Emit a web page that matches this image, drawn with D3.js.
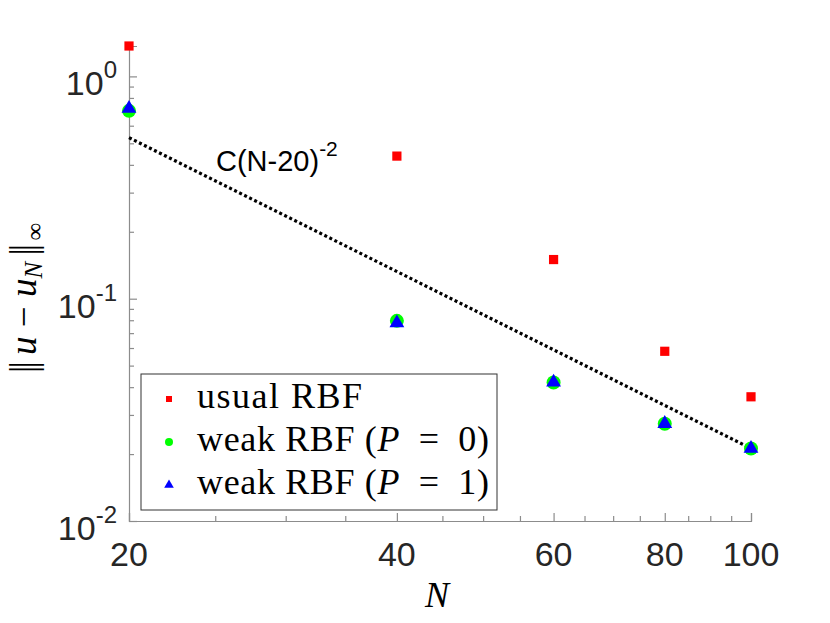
<!DOCTYPE html>
<html>
<head>
<meta charset="utf-8">
<script src="https://cdn.jsdelivr.net/npm/d3@7"></script>
<style>
  body { margin: 0; background: #fff; }
  svg { display: block; }
  .tick-label { font-family: 'Liberation Sans', Arial, sans-serif; fill: #262626; }
  .serif { font-family: 'Liberation Serif', 'Times New Roman', serif; fill: #000; }
</style>
</head>
<body>
<svg class="main" width="830" height="623"></svg>
<script>
'use strict';

// data
var nValues = [20, 40, 60, 80, 100];
var usualRBF = [1.37, 0.438, 0.150, 0.0580, 0.0362];
var weakP0 = [0.700, 0.0795, 0.0420, 0.0274, 0.0212];
var weakP1 = [0.725, 0.0785, 0.0425, 0.0277, 0.0214];
// reference slope line C N^-2 drawn between its two ends
var refN = [20, 100];
var refErr = [0.53, 0.0212];

var xTicks = [20, 40, 60, 80, 100];
var xMinor = [25, 30, 35, 45, 50, 55, 65, 70, 75, 85, 90, 95];
var yTicks = [0.01, 0.1, 1];
var yTickExp = ['-2', '-1', '0'];
var yMinor = [];
[0.01, 0.1].forEach(function (d) {
    for (var k = 2; k <= 9; k++) { yMinor.push(d * k); }
});

var legendLabels = [
    {text: 'usual RBF', math: null, width: 165},
    {text: 'weak RBF (', math: '0', width: 292},
    {text: 'weak RBF (', math: '1', width: 292}
];

var plotLeft = 129, plotRight = 751, plotTop = 46, plotBottom = 521;
var axisColor = '#8c8c8c';

var x = d3.scaleLog().domain([20, 100]).range([plotLeft, plotRight]);
var y = d3.scaleLog().domain([0.01, 1.37]).range([plotBottom, plotTop]);

var svg = d3.select('svg.main');

// axes lines with inward ticks
var gx = svg.append('g').attr('transform', 'translate(0,' + plotBottom + ')');
gx.call(d3.axisBottom(x).tickValues(xTicks).tickSize(-8).tickFormat(''));
gx.append('g').call(d3.axisBottom(x).tickValues(xMinor).tickSize(-5).tickFormat(''))
    .select('.domain').remove();
gx.selectAll('path, line').attr('stroke', axisColor).attr('stroke-width', 1.2);

var gy = svg.append('g').attr('transform', 'translate(' + plotLeft + ',0)');
gy.call(d3.axisLeft(y).tickValues(yTicks).tickSize(-8).tickFormat(''));
gy.append('g').call(d3.axisLeft(y).tickValues(yMinor).tickSize(-5).tickFormat(''))
    .select('.domain').remove();
gy.selectAll('path, line').attr('stroke', axisColor).attr('stroke-width', 1.2);

// x tick labels
svg.selectAll('.xlab')
    .data(xTicks)
    .enter()
    .append('text')
    .attr('class', 'tick-label')
    .attr('x', function (d) { return x(d); })
    .attr('y', plotBottom + 45)
    .attr('text-anchor', 'middle')
    .style('font-size', '34px')
    .text(function (d) { return d; });

// y tick labels 10^k
var ylab = svg.selectAll('.ylab')
    .data(yTicks)
    .enter()
    .append('text')
    .attr('class', 'tick-label')
    .attr('x', 117)
    .attr('y', function (d) { return y(d) + 19; })
    .attr('text-anchor', 'end')
    .style('font-size', '34px');
ylab.append('tspan').text('10');
ylab.append('tspan')
    .attr('dy', -17)
    .style('font-size', '24px')
    .text(function (d, i) { return yTickExp[i]; });

// reference line
var refLine = d3.line()
    .x(function (d) { return x(d[0]); })
    .y(function (d) { return y(d[1]); });
svg.append('path')
    .datum(d3.zip(refN, refErr))
    .attr('d', refLine)
    .attr('fill', 'none')
    .attr('stroke', '#000')
    .attr('stroke-width', 3.2)
    .attr('stroke-dasharray', '3,2.6');

var refText = svg.append('text')
    .attr('class', 'tick-label')
    .attr('x', 216)
    .attr('y', 171)
    .style('fill', '#000')
    .style('font-size', '29px');
refText.append('tspan').text('C(N-20)');
refText.append('tspan').attr('dy', -15).style('font-size', '21px').text('-2');

// markers
var tri = d3.symbol().type(d3.symbolTriangle);

svg.append('g').selectAll('rect')
    .data(d3.zip(nValues, usualRBF))
    .enter()
    .append('rect')
    .attr('x', function (d) { return x(d[0]) - 4.6; })
    .attr('y', function (d) { return y(d[1]) - 4.6; })
    .attr('width', 9.2)
    .attr('height', 9.2)
    .attr('fill', '#ff0000');

svg.append('g').selectAll('circle')
    .data(d3.zip(nValues, weakP0))
    .enter()
    .append('circle')
    .attr('cx', function (d) { return x(d[0]); })
    .attr('cy', function (d) { return y(d[1]); })
    .attr('r', 7)
    .attr('fill', '#00ff00');

svg.append('g').selectAll('path')
    .data(d3.zip(nValues, weakP1))
    .enter()
    .append('path')
    .attr('d', tri.size(95))
    .attr('transform', function (d) { return 'translate(' + x(d[0]) + ',' + (y(d[1]) + 1) + ')'; })
    .attr('fill', '#0000ff');

// legend
var legend = svg.append('g');
legend.append('rect')
    .attr('x', 141)
    .attr('y', 374)
    .attr('width', 356)
    .attr('height', 136)
    .attr('fill', '#fff')
    .attr('stroke', '#333')
    .attr('stroke-width', 1);

var rowY = [399, 442, 485];
legend.append('rect').attr('x', 166).attr('y', rowY[0] - 3).attr('width', 6).attr('height', 6).attr('fill', '#ff0000');
legend.append('circle').attr('cx', 169).attr('cy', rowY[1]).attr('r', 4).attr('fill', '#00ff00');
legend.append('path').attr('d', tri.size(40)).attr('transform', 'translate(169,' + rowY[2] + ')').attr('fill', '#0000ff');

legendLabels.forEach(function (d, i) {
    var t = legend.append('text')
        .attr('class', 'serif')
        .attr('x', 197)
        .attr('y', rowY[i] + 9)
        .attr('textLength', d.width)
        .attr('lengthAdjust', 'spacing')
        .style('font-size', '36px');
    t.append('tspan').text(d.text);
    if (d.math !== null) {
        t.append('tspan').style('font-style', 'italic').text('P');
        t.append('tspan').text('\u2002=\u2002' + d.math + ')');
    }
});

// axis titles
svg.append('text')
    .attr('class', 'serif')
    .attr('x', 437)
    .attr('y', 607)
    .attr('text-anchor', 'middle')
    .style('font-size', '36px')
    .style('font-style', 'italic')
    .text('N');

var yt = svg.append('text')
    .attr('class', 'serif')
    .attr('x', -373)
    .attr('y', 36)
    .attr('transform', 'rotate(-90)')
    .style('font-size', '37px');
yt.append('tspan').style('letter-spacing', '-3px').text('||');
yt.append('tspan').style('font-style', 'italic').text(' u');
yt.append('tspan').text(' \u2212 ');
yt.append('tspan').style('font-style', 'italic').text('u');
yt.append('tspan').attr('dy', 6).style('font-style', 'italic').style('font-size', '25px').text('N');
yt.append('tspan').attr('dy', -6).style('letter-spacing', '-3px').text(' ||');
yt.append('tspan').attr('dy', 7).style('font-size', '25px').text(' \u221e');
</script>
</body>
</html>
